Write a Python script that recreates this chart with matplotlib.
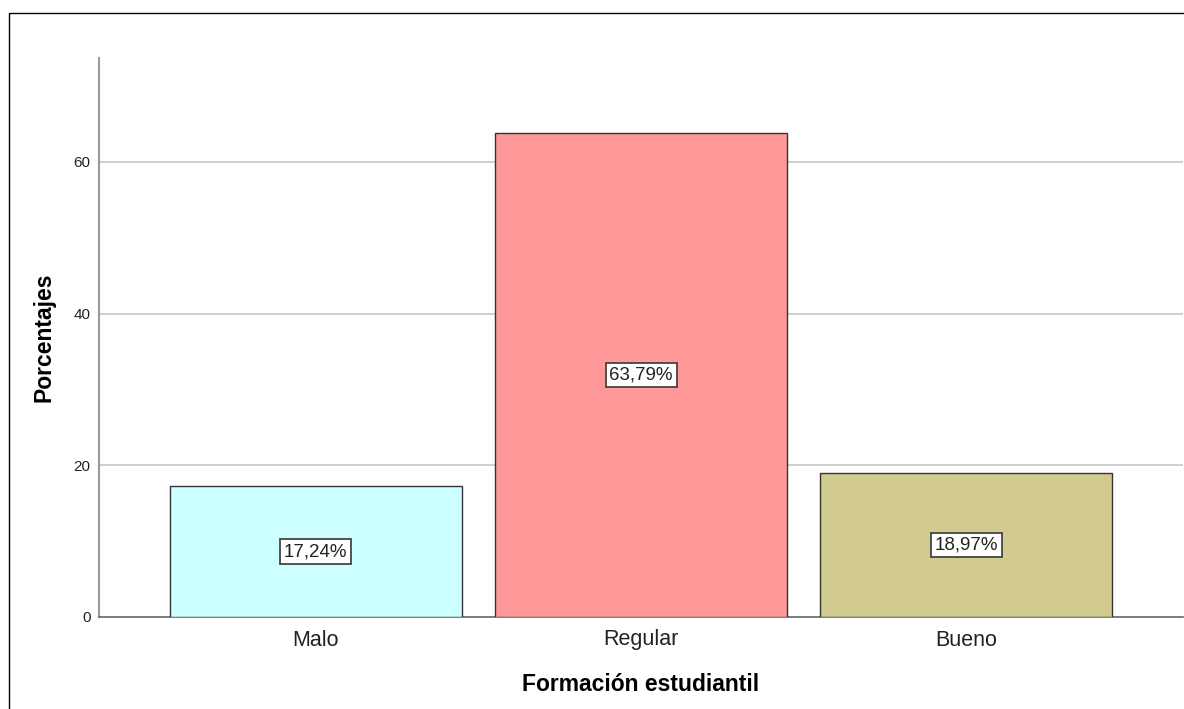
import matplotlib.pyplot as plt
from matplotlib.patches import Rectangle

plt.rcParams['font.family'] = ['Liberation Sans', 'DejaVu Sans']

categories = ['Malo', 'Regular', 'Bueno']
percentages = [17.24, 63.79, 18.97]
labels = ['17,24%', '63,79%', '18,97%']
colors = ['#CCFFFF', '#FF9999', '#D2CB8F']
yticks = [0, 20, 40, 60]

fig = plt.figure(figsize=(11.84, 7.09), dpi=100)
ax = fig.add_axes([99 / 1184, 1 - 617 / 709, 1084 / 1184, (617 - 58) / 709])

# outer frame like the SPSS output window
fig.add_artist(Rectangle((9 / 1184, -0.1), 1.2, 1 - 13 / 709 + 0.1,
                         transform=fig.transFigure, fill=False,
                         ec='black', lw=1))

x = range(len(categories))
ax.bar(x, percentages, width=0.9, color=colors, edgecolor='#333333',
       linewidth=1, zorder=3)

for i, (v, lab) in enumerate(zip(percentages, labels)):
    ax.text(i, v / 2, lab, ha='center', va='center', fontsize=13.5,
            color='#222222', zorder=4,
            bbox=dict(boxstyle='square,pad=0.2', fc='white',
                      ec='#444444', lw=1.3))

ax.set_xlim(-0.667, 2.667)
ax.set_ylim(0, 73.7)
ax.set_xticks(list(x))
ax.set_xticklabels(categories, fontsize=15.5, color='#222222')
ax.set_yticks(yticks)
ax.set_yticklabels([str(t) for t in yticks], fontsize=11, color='#222222')
ax.tick_params(length=0)
ax.tick_params(axis='x', pad=9)
ax.tick_params(axis='y', pad=6)

for t in yticks[1:]:
    ax.axhline(t, color='#D0D0D0', lw=1.5, zorder=1)

ax.spines['top'].set_visible(False)
ax.spines['right'].set_visible(False)
ax.spines['left'].set_color('#999999')
ax.spines['left'].set_linewidth(1.5)
ax.spines['bottom'].set_color('#666666')
ax.spines['bottom'].set_linewidth(1.2)

ax.set_xlabel('Formación estudiantil', fontsize=16.5, fontweight='bold',
              labelpad=16)
ax.set_ylabel('Porcentajes', fontsize=16.5, fontweight='bold', labelpad=13)

fig.savefig('out.png', dpi=100)
